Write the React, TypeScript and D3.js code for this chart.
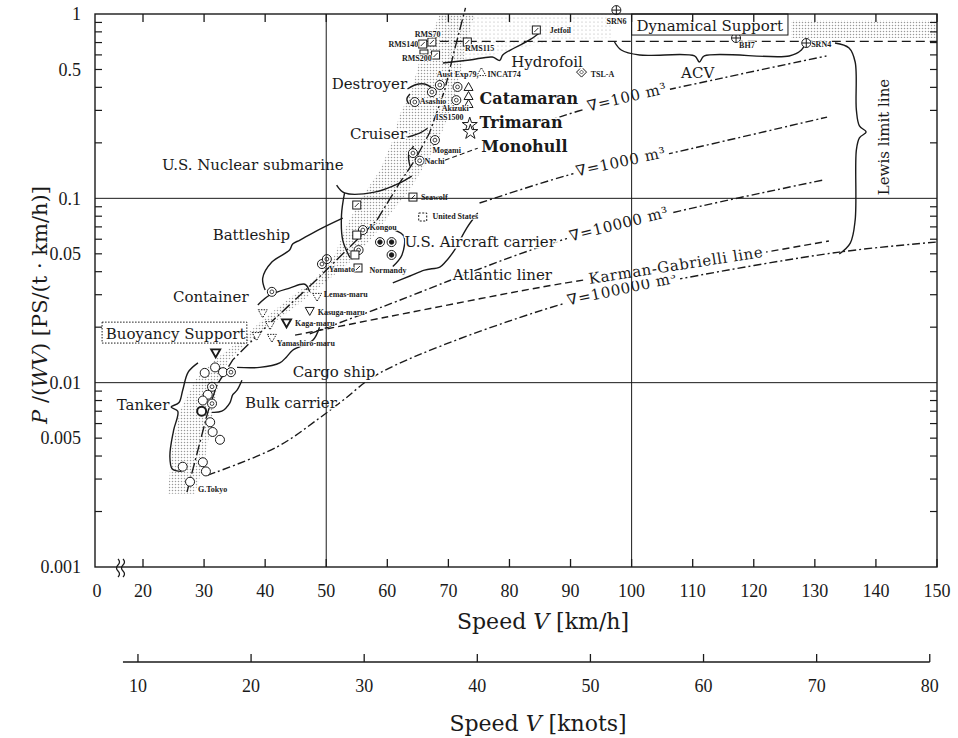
import React, { useEffect, useRef } from "react";
import * as d3 from "d3";

type Pt = [number, number];

// axes
const speedTicks = [20, 30, 40, 50, 60, 70, 80, 90, 100, 110, 120, 130, 140, 150];
const knotTicks = [10, 20, 30, 40, 50, 60, 70, 80];
const powerTicks = [1, 0.5, 0.1, 0.05, 0.01, 0.005, 0.001];
const powerTickLabels = ["1", "0.5", "0.1", "0.05", "0.01", "0.005", "0.001"];
const gridSpeeds = [50, 100];
const gridPowers = [0.1, 0.01];

// limit / reference lines  [V km/h, P/(WV)]
const dynamicalLine: Pt[] = [[66.3, 0.71], [150, 0.71]];
const nabla100: Pt[] = [[85.7, 0.259], [93.6, 0.313], [114.8, 0.449], [131.9, 0.592]];
const nabla1000: Pt[] = [[75.1, 0.0943], [91.5, 0.139], [101.3, 0.161], [132.0, 0.276]];
const nabla10000: Pt[] = [[47.3, 0.0184], [58.8, 0.0255], [87.0, 0.0572], [107.8, 0.0853], [131.5, 0.126]];
const nabla100000: Pt[] = [
  [30.6, 0.00315], [41.9, 0.00447], [48.9, 0.00643], [52.7, 0.008], [58.8, 0.0113],
  [89.3, 0.0271], [107.8, 0.0365], [134.0, 0.0511], [149.8, 0.0579],
];
const karmanGabrielli: Pt[] = [[44.9, 0.0181], [59.9, 0.0227], [89.3, 0.0348], [107.8, 0.0424], [122.0, 0.0511], [132.3, 0.0587]];
const shipTrend: Pt[] = [
  [27.2, 0.00255], [30.6, 0.0069], [32.1, 0.0097], [34.7, 0.0133], [39.6, 0.0193], [48.9, 0.0375],
  [55.0, 0.0594], [58.3, 0.0762], [62.0, 0.121], [64.5, 0.161], [66.9, 0.226], [69.4, 0.387],
  [71.0, 0.638], [72.8, 1.08],
];
const monohullPointer: Pt[] = [[69.4, 0.161], [74.8, 0.187]];

// stippled zones
const bandLeft: Pt[] = [
  [24.1, 0.0025], [24.7, 0.0043], [26.1, 0.0071], [28.5, 0.0103], [31.8, 0.0133], [35.9, 0.017],
  [40.0, 0.0225], [44.0, 0.0288], [48.1, 0.036], [51.4, 0.0493], [53.0, 0.0673], [55.5, 0.098],
  [58.8, 0.142], [60.9, 0.207], [62.0, 0.283], [64.0, 0.387], [65.3, 0.563], [66.9, 0.723], [68.6, 1.0],
];
const bandRight: Pt[] = [
  [74.3, 1.0], [73.1, 0.723], [72.2, 0.497], [71.0, 0.341], [69.1, 0.235], [66.6, 0.161], [63.7, 0.111],
  [60.7, 0.0843], [57.9, 0.0632], [53.9, 0.0451], [49.3, 0.0339], [45.3, 0.0264], [40.8, 0.0205],
  [36.7, 0.016], [33.9, 0.013], [32.3, 0.0097], [31.3, 0.0063], [30.1, 0.0038], [28.5, 0.0025],
];
const hydrofoilZone: Pt[] = [[68.6, 1.0], [96.7, 1.0], [96.7, 0.741], [88.2, 0.723], [81.7, 0.654], [75.1, 0.577], [70.2, 0.549]];
const dynamicalZone: Pt[] = [[126.1, 0.928], [150, 0.928], [150, 0.741], [126.1, 0.741]];

// braces and outlines
const lewisBrace: Pt[] = [
  [133.3, 0.696], [135.6, 0.654], [136.6, 0.549], [136.8, 0.301], [137.3, 0.247], [138.4, 0.229],
  [137.3, 0.213], [136.8, 0.183], [136.6, 0.0762], [135.8, 0.0572], [134.0, 0.0499],
];
const acvBrace: Pt[] = [
  [97.2, 0.705], [98.3, 0.638], [101.3, 0.599], [110.3, 0.592], [111.1, 0.549], [111.9, 0.592],
  [125.8, 0.592], [127.8, 0.638], [128.4, 0.687],
];
const hydrofoilBrace: Pt[] = [[69.1, 0.542], [73.5, 0.563], [77.2, 0.584], [78.4, 0.56], [78.9, 0.599], [80.8, 0.654], [83.3, 0.723], [84.9, 0.789]];
const destroyerBrace: Pt[] = [[63.3, 0.392], [64.5, 0.412], [66.1, 0.417], [67.3, 0.397]];
const destroyerArc: Pt[] = [[63.7, 0.368], [63.2, 0.346], [63.5, 0.325]];
const cruiserBrace: Pt[] = [[63.3, 0.215], [65.3, 0.226], [66.6, 0.24]];
const cruiserArc: Pt[] = [[64.3, 0.192], [63.5, 0.172], [63.7, 0.15]];
const submarineBrace: Pt[] = [[51.7, 0.118], [53.0, 0.107], [57.9, 0.108], [62.0, 0.121], [64.0, 0.132]];
const submarineSide: Pt[] = [[53.0, 0.107], [52.5, 0.0812], [52.7, 0.0594], [53.9, 0.0476]];
const battleshipBrace: Pt[] = [
  [40.0, 0.0318], [39.6, 0.0369], [41.1, 0.0451], [44.0, 0.0524], [44.5, 0.0565], [45.7, 0.0594],
  [49.3, 0.069], [52.7, 0.0782],
];
const containerBrace: Pt[] = [[38.8, 0.0264], [40.8, 0.0299], [44.0, 0.0326], [46.5, 0.0342], [47.3, 0.0311]];
const tankerBrace: Pt[] = [
  [29.0, 0.0128], [27.4, 0.0114], [26.5, 0.0091], [25.9, 0.0078], [24.6, 0.00737], [25.7, 0.007],
  [25.0, 0.0055], [24.4, 0.004], [24.8, 0.0034], [26.3, 0.0033],
];
const bulkBrace: Pt[] = [[31.3, 0.0069], [32.9, 0.007], [34.2, 0.00775], [34.7, 0.0086], [35.4, 0.0091], [36.2, 0.0103]];
const cargoBrace: Pt[] = [[35.4, 0.0121], [39.1, 0.0121], [42.4, 0.0128], [43.5, 0.0138], [44.5, 0.015], [47.8, 0.017], [48.9, 0.02]];
const linerBrace: Pt[] = [[60.9, 0.0348], [63.7, 0.0379], [66.1, 0.0408], [68.6, 0.0424], [69.5, 0.0451], [71.0, 0.0524], [73.0, 0.069], [74.8, 0.0832]];
const carrierArc: Pt[] = [[61.2, 0.0673], [62.7, 0.0624], [62.4, 0.0493], [60.9, 0.0427]];

// ship data points: [marker kind, V, P]
const markers: [string, number, number][] = [
  ["xsquare", 67.3, 0.705], ["xsquare", 65.8, 0.687], ["rect", 66.0, 0.622], ["xsquare", 67.9, 0.599],
  ["xsquare", 73.1, 0.705], ["xsquare", 84.4, 0.819], ["cross", 97.5, 1.05], ["cross", 117.1, 0.741],
  ["cross", 128.6, 0.696], ["dtriup", 75.4, 0.484], ["diamond", 91.8, 0.484],
  ["utri", 73.3, 0.402], ["utri", 73.3, 0.359], ["utri", 73.3, 0.325],
  ["star", 73.5, 0.25], ["star", 73.6, 0.229],
  ["dcircle", 68.6, 0.412], ["dcircle", 67.3, 0.377], ["dcircle", 71.5, 0.402], ["dcircle", 64.5, 0.333],
  ["dcircle", 71.3, 0.341], ["dcircle", 67.8, 0.207], ["dcircle", 64.2, 0.176], ["dcircle", 65.3, 0.16],
  ["xsquare", 64.2, 0.1016], ["xsquare", 55.0, 0.092], ["dsquare", 65.8, 0.0792], ["dcircle", 56.0, 0.0673],
  ["square", 55.0, 0.0632], ["dcircle", 55.3, 0.0524], ["square", 54.7, 0.0493], ["xsquare", 55.2, 0.0419],
  ["dcircle", 49.3, 0.044], ["dcircle", 50.1, 0.0468],
  ["fcircle", 58.8, 0.0579], ["fcircle", 60.7, 0.0579], ["fcircle", 60.7, 0.0493],
  ["dcircle", 41.1, 0.0311], ["dtri", 48.5, 0.0292], ["tri", 47.3, 0.0245], ["btri", 43.5, 0.0211],
  ["dtri", 41.1, 0.0175], ["dtri", 39.6, 0.0238], ["dtri", 40.8, 0.0205], ["dtri", 38.6, 0.0179],
  ["btri", 31.9, 0.0145],
  ["circle", 30.1, 0.0113], ["circle", 31.8, 0.0121], ["circle", 33.1, 0.0114], ["dcircle", 34.4, 0.0114],
  ["dcircle", 31.3, 0.0095], ["circle", 30.6, 0.0086], ["circle", 29.8, 0.008], ["dcircle", 31.3, 0.0077],
  ["ocircle", 29.6, 0.007], ["circle", 31.0, 0.0061], ["circle", 31.4, 0.0054], ["circle", 32.6, 0.0049],
  ["circle", 29.8, 0.0037], ["circle", 30.3, 0.0033], ["circle", 26.5, 0.0035], ["circle", 27.7, 0.0029],
];

// small ship names: [text, V, P] (text start)
const shipNames: [string, number, number][] = [
  ["RMS70", 64.5, 0.75], ["RMS140", 60.2, 0.662], ["RMS200", 62.4, 0.556], ["RMS115", 72.7, 0.631],
  ["Jetfoil", 86.6, 0.789], ["SRN6", 95.9, 0.883], ["BH7", 117.6, 0.654], ["SRN4", 129.4, 0.662],
  ["Aust Exp79,", 68.1, 0.455], ["INCAT74", 76.4, 0.455], ["TSL-A", 93.3, 0.455],
  ["Asashio", 65.3, 0.325], ["Akizuki", 68.9, 0.298], ["ISS1500", 67.9, 0.266], ["Mogami", 67.4, 0.176],
  ["Nachi", 66.1, 0.153], ["Seawolf", 65.5, 0.0977], ["United States", 67.4, 0.0774], ["Kongou", 57.1, 0.0673],
  ["Yamato", 50.4, 0.0399], ["Normandy", 57.1, 0.0393], ["Lemas-maru", 49.6, 0.0292],
  ["Kasuga-maru", 48.6, 0.0233], ["Kaga-maru", 44.9, 0.0203], ["Yamashiro-maru", 41.9, 0.0159],
  ["G.Tokyo", 29.0, 0.00256],
];

// ship type labels
const typeLabels: [string, number, number][] = [
  ["Hydrofoil", 80.3, 0.516], ["Destroyer", 50.9, 0.392], ["Cruiser", 53.9, 0.21],
  ["U.S. Nuclear submarine", 23.1, 0.142], ["Battleship", 31.4, 0.0594], ["U.S. Aircraft carrier", 62.8, 0.0543],
  ["Atlantic liner", 70.7, 0.036], ["Container", 24.9, 0.0274], ["Cargo ship", 44.5, 0.0107],
  ["Tanker", 15.7, 0.00708], ["Bulk carrier", 36.7, 0.00732], ["ACV", 108.1, 0.449],
];
const hullLabels: [string, number, number][] = [["Catamaran", 75.1, 0.325], ["Trimaran", 75.1, 0.24], ["Monohull", 75.4, 0.178]];

const lineLabels: [string, Pt[], number][] = [
  ["∇=100  m³", nabla100, 99.3], ["∇=1000  m³", nabla1000, 98.3], ["∇=10000  m³", nabla10000, 98.0],
  ["∇=100000  m³", nabla100000, 98.5], ["Karman-Gabrielli line", karmanGabrielli, 107.3],
];

const App = () => {
  const svgRef = useRef<SVGSVGElement>(null);

  useEffect(() => {
    const svg = d3.select(svgRef.current);
    svg.selectAll("*").remove();

    const x = d3.scaleLinear().domain([20, 150]).range([143, 937]);
    const y = d3.scaleLog().domain([0.001, 1]).range([567, 14]);
    const left = 95;
    const right = x(150);
    const top = y(1);
    const bottom = y(0.001);
    const kx = (k: number) => x(k * 1.852) + 4;
    const serif = "'Liberation Serif', 'DejaVu Serif', serif";
    const wide = "'DejaVu Serif', serif";
    const ink = "#1a1a1a";

    svg.style("font-family", serif);

    const defs = svg.append("defs");
    defs.append("pattern").attr("id", "stipple").attr("width", 3).attr("height", 3)
      .attr("patternUnits", "userSpaceOnUse")
      .append("circle").attr("cx", 1.5).attr("cy", 1.5).attr("r", 0.75).attr("fill", "#999");
    defs.append("pattern").attr("id", "stippleLight").attr("width", 4).attr("height", 4)
      .attr("patternUnits", "userSpaceOnUse")
      .append("circle").attr("cx", 2).attr("cy", 2).attr("r", 0.6).attr("fill", "#aaa");
    defs.append("clipPath").attr("id", "plotClip").append("rect")
      .attr("x", left).attr("y", top - 10).attr("width", right - left).attr("height", bottom - top + 10);

    const path = d3.line<Pt>().x((d) => x(d[0])).y((d) => y(d[1]));
    const smooth = d3.line<Pt>().x((d) => x(d[0])).y((d) => y(d[1])).curve(d3.curveCatmullRom.alpha(0.5));

    const plot = svg.append("g").attr("clip-path", "url(#plotClip)");

    // stippled zones
    plot.append("path").attr("d", path([...bandLeft, ...bandRight]) + "Z").attr("fill", "url(#stipple)");
    plot.append("path").attr("d", path(hydrofoilZone) + "Z").attr("fill", "url(#stippleLight)");
    plot.append("path").attr("d", path(dynamicalZone) + "Z").attr("fill", "url(#stipple)");

    // reference lines
    const stroke = (d: string | null, dash: string, w = 1.4) =>
      plot.append("path").attr("d", d).attr("fill", "none").attr("stroke", ink)
        .attr("stroke-width", w).attr("stroke-dasharray", dash);
    stroke(path(dynamicalLine), "9,5");
    stroke(path(shipTrend), "11,3,2,3");
    [nabla100, nabla1000, nabla10000, nabla100000].forEach((l) => stroke(smooth(l), "8,3,2,3"));
    stroke(smooth(karmanGabrielli), "7,4");
    stroke(path(monohullPointer), "5,3", 1.1);

    // braces
    [lewisBrace, acvBrace, hydrofoilBrace, destroyerBrace, destroyerArc, cruiserBrace, cruiserArc,
      submarineBrace, submarineSide, battleshipBrace, containerBrace, tankerBrace, bulkBrace,
      cargoBrace, linerBrace, carrierArc].forEach((b) =>
      plot.append("path").attr("d", smooth(b)).attr("fill", "none").attr("stroke", ink).attr("stroke-width", 1.4));

    // markers
    const tri = (up: boolean) => (up ? "M-4.5,3.5L4.5,3.5L0,-4.5Z" : "M-4.5,-3.5L4.5,-3.5L0,4.5Z");
    markers.forEach(([kind, v, p]) => {
      const g = plot.append("g").attr("transform", `translate(${x(v)},${y(p)})`)
        .attr("fill", "#fff").attr("stroke", ink).attr("stroke-width", 1);
      if (kind === "circle" || kind === "dcircle" || kind === "fcircle" || kind === "ocircle" || kind === "cross") {
        g.append("circle").attr("r", 4.5).attr("stroke-width", kind === "ocircle" ? 2 : 1);
        if (kind === "dcircle") g.append("circle").attr("r", 1.9).attr("stroke-width", 0.8);
        if (kind === "fcircle") g.append("circle").attr("r", 2.2).attr("fill", ink);
        if (kind === "cross") g.append("path").attr("d", "M-4.5,0H4.5M0,-4.5V4.5");
      } else if (kind === "square" || kind === "xsquare" || kind === "dsquare") {
        g.append("rect").attr("x", -4).attr("y", -4).attr("width", 8).attr("height", 8)
          .attr("stroke-dasharray", kind === "dsquare" ? "2,1.5" : null);
        if (kind === "xsquare") g.append("path").attr("d", "M-2,2L2,-2").attr("stroke-width", 0.9);
      } else if (kind === "rect") {
        g.append("rect").attr("x", -4).attr("y", -2).attr("width", 8).attr("height", 4);
      } else if (kind === "star") {
        g.append("path").attr("d", d3.symbol(d3.symbolStar, 70)());
      } else if (kind === "diamond") {
        g.append("path").attr("d", "M0,-5L5,0L0,5L-5,0Z");
        g.append("path").attr("d", "M0,-2L2,0L0,2L-2,0Z").attr("stroke-width", 0.7);
      } else {
        const up = kind === "utri" || kind === "dtriup";
        g.append("path").attr("d", tri(up))
          .attr("stroke-width", kind === "btri" ? 1.9 : 1)
          .attr("stroke-dasharray", kind === "dtri" || kind === "dtriup" ? "1.5,1.2" : null);
      }
    });

    // labels on lines (line broken under the text)
    const labels = svg.append("g").attr("font-family", wide);
    lineLabels.forEach(([text, pts, vc]) => {
      const at = (v: number) => {
        const px = pts.map((d) => [x(d[0]), y(d[1])]);
        const xv = x(v);
        let i = 0;
        while (i < px.length - 2 && xv > px[i + 1][0]) i++;
        const t = (xv - px[i][0]) / (px[i + 1][0] - px[i][0]);
        return [xv, px[i][1] + t * (px[i + 1][1] - px[i][1])];
      };
      const [cx, cy] = at(vc);
      const [ax, ay] = at(vc - 8);
      const [bx, by] = at(vc + 8);
      const ang = (Math.atan2(by - ay, bx - ax) * 180) / Math.PI;
      const g = labels.append("g").attr("transform", `translate(${cx},${cy}) rotate(${ang})`);
      const t = g.append("text").attr("y", 3).attr("text-anchor", "middle").attr("font-size", 15)
        .attr("letter-spacing", 0.6).attr("fill", ink).text(text);
      const bb = (t.node() as SVGTextElement).getBBox();
      g.insert("rect", "text").attr("x", bb.x - 3).attr("y", bb.y + 2).attr("width", bb.width + 6)
        .attr("height", bb.height - 2).attr("fill", "#fff");
    });

    const halo = (sel: any, w: number) =>
      sel.attr("stroke", "#fff").attr("stroke-width", w).attr("paint-order", "stroke").attr("stroke-linejoin", "round");

    typeLabels.forEach(([text, v, p]) =>
      halo(labels.append("text").attr("x", x(v)).attr("y", y(p)).attr("font-size", 15).attr("fill", ink).text(text), 3));
    hullLabels.forEach(([text, v, p]) =>
      halo(labels.append("text").attr("x", x(v)).attr("y", y(p)).attr("font-size", 16).attr("font-weight", "bold")
        .attr("fill", ink).text(text), 3));
    shipNames.forEach(([text, v, p]) =>
      halo(svg.append("text").attr("x", x(v)).attr("y", y(p)).attr("font-size", 8).attr("font-weight", "bold")
        .attr("fill", ink).text(text), 1.5));

    // boxed regime labels
    const box = (text: string, v0: number, p0: number, v1: number, p1: number, tv: number, tp: number, dash: string | null) => {
      svg.append("rect").attr("x", x(v0)).attr("y", y(p0)).attr("width", x(v1) - x(v0)).attr("height", y(p1) - y(p0))
        .attr("fill", "#fff").attr("stroke", ink).attr("stroke-width", 1).attr("stroke-dasharray", dash);
      svg.append("text").attr("x", x(tv)).attr("y", y(tp)).attr("font-family", wide).attr("font-size", 15)
        .attr("fill", ink).text(text);
    };
    box("Dynamical Support", 100.0, 1.0, 125.6, 0.769, 100.8, 0.809, null);
    box("Buoyancy Support", 13.3, 0.0213, 37.0, 0.0164, 13.9, 0.0172, "1.5,1.5");

    svg.append("text").attr("transform", `translate(${x(142.2)},${y(0.215)}) rotate(-90)`)
      .attr("text-anchor", "middle").attr("font-family", wide).attr("font-size", 15).attr("fill", ink)
      .text("Lewis limit line");

    // grid lines
    const axes = svg.append("g").attr("stroke", ink).attr("fill", "none");
    gridSpeeds.forEach((v) => axes.append("line").attr("x1", x(v)).attr("x2", x(v)).attr("y1", top).attr("y2", bottom).attr("stroke-width", 1));
    gridPowers.forEach((p) => axes.append("line").attr("x1", left).attr("x2", right).attr("y1", y(p)).attr("y2", y(p)).attr("stroke-width", 1));

    // frame
    axes.append("rect").attr("x", left).attr("y", top).attr("width", right - left).attr("height", bottom - top).attr("stroke-width", 1.4);

    // speed ticks top & bottom
    speedTicks.forEach((v) => {
      axes.append("line").attr("x1", x(v)).attr("x2", x(v)).attr("y1", bottom).attr("y2", bottom - 8).attr("stroke-width", 1.3);
      axes.append("line").attr("x1", x(v)).attr("x2", x(v)).attr("y1", top).attr("y2", top + 8).attr("stroke-width", 1.3);
    });
    // log minor ticks left & right
    [0.001, 0.01, 0.1].forEach((dec) =>
      d3.range(2, 10).forEach((m) => {
        const yy = y(dec * m);
        axes.append("line").attr("x1", left).attr("x2", left + 7).attr("y1", yy).attr("y2", yy).attr("stroke-width", 1.2);
        axes.append("line").attr("x1", right).attr("x2", right - 7).attr("y1", yy).attr("y2", yy).attr("stroke-width", 1.2);
      }));

    // axis break
    const brk = svg.append("g").attr("fill", "none").attr("stroke", ink).attr("stroke-width", 1.2);
    [118, 123].forEach((bx) =>
      brk.append("path").attr("d", `M${bx},${bottom - 8} q3,3 0,6 q-3,3 0,6 q3,3 0,6`));

    // tick labels
    const lab = svg.append("g").attr("fill", ink).attr("font-size", 18);
    speedTicks.forEach((v) => lab.append("text").attr("x", x(v)).attr("y", 597).attr("text-anchor", "middle").text(v));
    lab.append("text").attr("x", left + 2).attr("y", 597).attr("text-anchor", "middle").text("0");
    powerTicks.forEach((p, i) =>
      lab.append("text").attr("x", 81).attr("y", y(p)).attr("dy", "0.35em").attr("text-anchor", "end").text(powerTickLabels[i]));

    // knots axis
    const kAxisY = 662;
    axes.append("line").attr("x1", kx(knotTicks[0]) - 15).attr("x2", kx(80)).attr("y1", kAxisY).attr("y2", kAxisY).attr("stroke-width", 1.3);
    knotTicks.forEach((k) => {
      axes.append("line").attr("x1", kx(k)).attr("x2", kx(k)).attr("y1", kAxisY).attr("y2", kAxisY - 8).attr("stroke-width", 1.3);
      lab.append("text").attr("x", kx(k)).attr("y", 692).attr("text-anchor", "middle").text(k);
    });

    // axis titles
    const title = (tx: number, ty: number, rot: number, size: number, parts: [string, boolean][]) => {
      const t = svg.append("text").attr("transform", `translate(${tx},${ty}) rotate(${rot})`)
        .attr("text-anchor", "middle").attr("font-family", wide).attr("font-size", size).attr("fill", ink);
      parts.forEach(([s, it]) => t.append("tspan").attr("font-style", it ? "italic" : null).text(s));
    };
    title(543, 629, 0, 22, [["Speed  ", false], ["V", true], [" [km/h]", false]]);
    title(538, 731, 0, 22, [["Speed  ", false], ["V", true], [" [knots]", false]]);
    title(47, 305, -90, 21, [["P", true], [" /(", false], ["WV", true], [")   [PS/(t · km/h)]", false]]);
  }, []);

  return (
    <div style={{ position: "absolute", left: 0, top: 0, background: "#fff" }}>
      <svg ref={svgRef} width={958} height={738} style={{ display: "block" }} />
    </div>
  );
};

export default App;
